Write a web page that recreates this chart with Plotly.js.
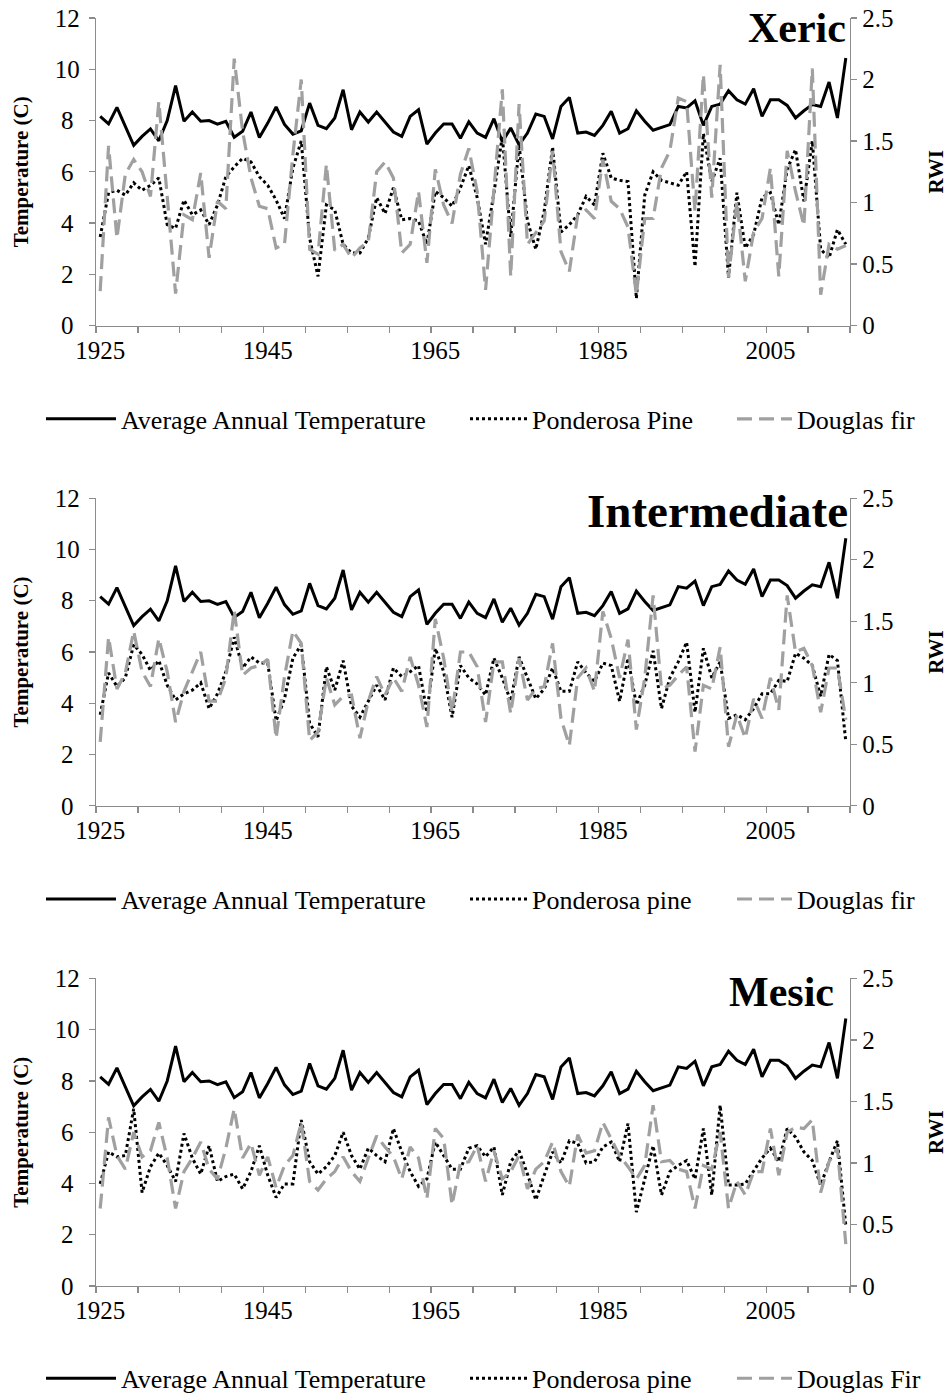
<!DOCTYPE html>
<html><head><meta charset="utf-8">
<script src="https://cdn.plot.ly/plotly-3.0.1.min.js"></script>
<style>body{margin:0;background:#fff}#chart{width:948px;height:1397px}</style>
</head><body><div id="chart"></div>
<script>
const years = [1925,1926,1927,1928,1929,1930,1931,1932,1933,1934,1935,1936,1937,1938,1939,1940,1941,1942,1943,1944,
1945,1946,1947,1948,1949,1950,1951,1952,1953,1954,1955,1956,1957,1958,1959,1960,1961,1962,1963,1964,
1965,1966,1967,1968,1969,1970,1971,1972,1973,1974,1975,1976,1977,1978,1979,1980,1981,1982,1983,1984,
1985,1986,1987,1988,1989,1990,1991,1992,1993,1994,1995,1996,1997,1998,1999,2000,2001,2002,2003,2004,
2005,2006,2007,2008,2009,2010,2011,2012,2013,2014];
const xTickVals = [1925,1945,1965,1985,2005];
const xTickText = ['1925','1945','1965','1985','2005'];
const tempTickVals = [0,2,4,6,8,10,12];
const tempTickText = ['0\u2005','2\u2005','4\u2005','6\u2005','8\u2005','10','12'];

const temperature = [8.16,7.87,8.51,7.75,7.03,7.38,7.67,7.21,8.0,9.36,7.97,8.33,7.97,8.0,7.86,7.97,7.35,7.58,8.33,7.34,
7.9,8.53,7.85,7.47,7.6,8.68,7.81,7.68,8.1,9.2,7.64,8.33,7.94,8.33,7.94,7.55,7.38,8.16,8.42,7.08,
7.51,7.86,7.86,7.31,7.95,7.51,7.34,8.07,7.16,7.71,7.05,7.51,8.25,8.16,7.28,8.55,8.9,7.51,7.55,7.42,
7.81,8.36,7.51,7.68,8.38,7.97,7.62,7.72,7.84,8.55,8.49,8.77,7.81,8.55,8.64,9.16,8.81,8.64,9.24,8.16,
8.81,8.81,8.59,8.1,8.38,8.62,8.55,9.5,8.1,10.44];

const xericPine = [0.72,1.08,1.10,1.06,1.16,1.10,1.14,1.20,0.82,0.79,1.02,0.90,0.94,0.82,0.98,1.21,1.29,1.36,1.33,1.21,
1.14,1.02,0.87,1.28,1.50,0.71,0.40,0.98,0.94,0.66,0.59,0.59,0.71,1.04,0.91,1.12,0.86,0.87,0.85,0.66,
1.09,1.04,0.97,1.12,1.30,1.04,0.66,1.08,1.54,0.72,1.47,0.85,0.62,0.93,1.45,0.76,0.82,0.90,1.05,0.98,
1.40,1.20,1.18,1.17,0.22,1.06,1.25,1.18,1.16,1.14,1.25,0.48,1.56,1.17,1.36,0.39,1.08,0.63,0.74,1.04,
1.08,0.82,1.27,1.43,1.01,1.50,0.62,0.55,0.78,0.66];
const xericFir = [0.28,1.46,0.71,1.23,1.35,1.25,1.05,1.82,1.05,0.26,0.90,0.86,1.24,0.55,1.01,0.95,2.17,1.58,1.20,0.97,
0.95,0.63,0.66,1.39,2.0,0.62,0.58,1.31,0.61,0.66,0.55,0.63,0.68,1.25,1.33,1.20,0.59,0.66,1.09,0.51,
1.27,0.98,0.83,1.23,1.44,1.09,0.29,1.10,1.92,0.40,1.80,0.66,0.75,0.85,1.42,0.60,0.44,0.90,0.94,0.87,
1.35,1.01,0.95,0.80,0.25,0.87,0.87,1.28,1.42,1.85,1.82,0.93,2.04,1.04,2.12,0.39,1.01,0.36,0.76,0.87,
1.28,0.40,1.42,1.09,0.81,2.09,0.25,0.66,0.62,0.65];

const interPine = [0.74,1.08,0.97,1.04,1.31,1.23,1.10,1.18,0.98,0.86,0.91,0.94,1.0,0.79,0.91,1.09,1.37,1.12,1.21,1.16,
1.16,0.69,0.87,1.20,1.31,0.67,0.56,1.13,0.94,1.18,0.81,0.72,0.85,0.98,0.86,1.12,1.05,1.09,1.14,0.76,
1.28,1.09,0.72,1.14,1.04,0.99,0.90,1.20,1.04,0.85,1.21,1.04,0.87,0.95,1.12,0.93,0.93,1.17,1.08,1.01,
1.16,1.14,0.85,1.20,0.82,0.98,1.26,0.79,1.04,1.17,1.33,0.76,1.28,1.04,1.17,0.71,0.74,0.70,0.79,0.91,
0.91,1.02,1.01,1.24,1.20,1.14,0.89,1.23,1.18,0.52];
const interFir = [0.52,1.37,0.95,1.08,1.42,1.09,0.97,1.36,1.09,0.68,0.93,1.09,1.25,0.85,0.85,1.04,1.59,1.06,1.12,1.14,
1.19,0.55,1.05,1.42,1.32,0.53,0.60,1.04,0.82,0.89,0.90,0.55,0.85,1.05,0.90,1.04,0.93,1.21,0.98,0.64,
1.52,1.20,0.76,1.25,1.25,1.13,0.68,1.17,1.17,0.75,1.20,0.86,0.95,0.97,1.32,0.71,0.49,1.04,1.12,0.93,
1.58,1.36,1.04,1.35,0.62,1.04,1.71,0.95,0.98,1.06,1.13,0.44,0.98,0.95,1.29,0.48,0.74,0.55,0.87,0.71,
1.04,0.78,1.71,1.25,1.28,1.14,0.76,1.12,1.12,0.70];

const mesicPine = [0.83,1.09,1.05,1.06,1.44,0.76,0.97,1.08,0.98,0.85,1.24,1.04,0.91,1.14,0.85,0.89,0.91,0.79,0.93,1.14,
0.90,0.72,0.83,0.83,1.35,1.01,0.91,0.97,1.06,1.25,1.06,0.95,1.12,1.06,1.01,1.28,1.09,0.93,0.81,0.87,
1.17,1.06,0.95,0.95,1.12,1.14,1.05,1.13,0.74,1.01,1.10,0.91,0.70,0.90,1.09,1.0,1.18,1.16,1.0,1.01,
1.13,1.17,1.01,1.32,0.60,0.87,1.14,0.74,0.93,0.98,1.02,0.87,1.28,0.74,1.47,0.82,0.82,0.83,0.94,1.04,
1.12,1.01,1.28,1.21,1.09,1.02,0.82,1.01,1.18,0.49];
const mesicFir = [0.63,1.37,1.06,0.95,1.25,1.05,1.10,1.33,1.04,0.63,0.93,1.04,1.17,0.95,0.87,1.12,1.44,1.04,1.16,0.90,
1.05,0.80,0.98,1.06,1.33,0.85,0.78,0.87,0.93,1.05,0.93,0.85,1.04,1.22,1.13,1.05,0.87,1.13,1.04,0.71,
1.28,1.20,0.66,1.0,1.01,1.14,0.85,1.10,0.87,0.93,1.06,0.79,0.95,1.01,1.17,0.93,0.81,1.23,1.08,1.10,
1.33,1.20,1.06,0.97,0.87,0.98,1.47,1.01,1.02,0.95,0.93,0.63,0.98,0.95,1.25,0.63,0.85,0.74,0.93,0.93,
1.28,0.90,1.25,1.29,1.28,1.35,0.76,1.01,1.12,0.34];

const panelTitles = ['Xeric','Intermediate','Mesic'];
const tempLabel = 'Average Annual Temperature';
const pineLabels = ['Ponderosa Pine','Ponderosa pine','Ponderosa pine'];
const firLabels = ['Douglas fir','Douglas fir','Douglas Fir'];
const pineSeries = [xericPine, interPine, mesicPine];
const firSeries = [xericFir, interFir, mesicFir];

const FONT = 'Liberation Serif, Times New Roman, serif';
const AX = '#8c8c8c';
const FIR = '#a0a0a0';
const W = 948, H = 1397, ML = 96, MR = 98, MT = 18.3, MB = 111.3;
const PH = H - MT - MB;
const panelH = 307.4, gap = 172.6;
const itemWidths = [70, 57, 55];

const traces = [];
const layout = {
  width: W, height: H,
  margin: {l: ML, r: MR, t: MT, b: MB, autoexpand: false},
  paper_bgcolor: '#fff', plot_bgcolor: '#fff',
  showlegend: true,
  font: {family: FONT, color: '#000', size: 25},
  annotations: []
};

function legName(n){ return n === 1 ? 'legend' : 'legend' + n; }
const legendTextX = [123, 534, 799];
const legendRowY = [419, 899, 1378];
const titleRight = [848, 850, 836];
const titleMidY = [28, 511, 992];
const titleSize = [42, 47, 42];

for (let i = 0; i < 3; i++) {
  const xa = i === 0 ? 'x' : 'x' + (i + 1);
  const yl = i === 0 ? 'y' : 'y' + (2 * i + 1);
  const yr = 'y' + (2 * i + 2);
  const top = MT + i * (panelH + gap);
  const d1 = 1 - (top - MT) / PH;
  const d0 = d1 - panelH / PH;
  const base = 3 * i;
  traces.push({x: years, y: temperature, xaxis: xa, yaxis: yl, type: 'scatter', mode: 'lines',
    name: tempLabel, line: {color: '#000', width: 3}, legend: legName(base + 1), showlegend: true});
  traces.push({x: years, y: pineSeries[i], xaxis: xa, yaxis: yr, type: 'scatter', mode: 'lines',
    name: pineLabels[i], line: {color: '#000', width: 3, dash: '3px,3px'}, legend: legName(base + 2), showlegend: true});
  traces.push({x: years, y: firSeries[i], xaxis: xa, yaxis: yr, type: 'scatter', mode: 'lines',
    name: firLabels[i], line: {color: FIR, width: 3.2, dash: '15px,7px'}, legend: legName(base + 3), showlegend: true});

  const xKey = i === 0 ? 'xaxis' : 'xaxis' + (i + 1);
  const ylKey = i === 0 ? 'yaxis' : 'yaxis' + (2 * i + 1);
  const yrKey = 'yaxis' + (2 * i + 2);
  layout[xKey] = {
    domain: [0, 1], anchor: yl, range: [1924.5, 2014.5],
    showline: true, linecolor: AX, linewidth: 1.3, showgrid: false, zeroline: false,
    tickmode: 'array', tickvals: xTickVals, ticktext: xTickText, ticks: '', ticklen: 0,
    ticklabelstandoff: 2,
    minor: {tickmode: 'linear', tick0: 1924.5, dtick: 5, ticks: 'outside', ticklen: 6, tickcolor: AX, tickwidth: 1.3, showgrid: false},
    tickfont: {family: FONT, size: 25, color: '#000'}, fixedrange: true
  };
  layout[ylKey] = {
    domain: [d0, d1], anchor: xa, range: [0, 12],
    tickmode: 'array', tickvals: tempTickVals, ticktext: tempTickText,
    ticklabelstandoff: 4,
    showline: true, linecolor: AX, linewidth: 1.3, showgrid: false, zeroline: false,
    ticks: 'outside', ticklen: 6, tickcolor: AX, tickwidth: 1.3,
    tickfont: {family: FONT, size: 25, color: '#000'},
    title: {text: '<b>Temperature (C)</b>', font: {family: FONT, size: 21, color: '#000'}, standoff: 20}
  };
  layout[yrKey] = {
    overlaying: yl, side: 'right', anchor: xa, range: [0, 2.5], dtick: 0.5, tick0: 0,
    showline: true, linecolor: AX, linewidth: 1.3, showgrid: false, zeroline: false,
    ticks: 'outside', ticklen: 6, tickcolor: AX, tickwidth: 1.3,
    tickfont: {family: FONT, size: 25, color: '#000'},
    title: {text: '<b>RWI</b>', font: {family: FONT, size: 21, color: '#000'}, standoff: 36}
  };
  layout.annotations.push({
    xref: 'paper', yref: 'paper',
    x: (titleRight[i] - ML) / (W - ML - MR), y: (H - MB - titleMidY[i]) / PH,
    xanchor: 'right', yanchor: 'middle', showarrow: false,
    text: '<b>' + panelTitles[i] + '</b>', font: {family: FONT, size: titleSize[i], color: '#000'}
  });
  for (let j = 0; j < 3; j++) {
    const key = legName(base + j + 1);
    layout[key] = {
      orientation: 'h', xref: 'paper', yref: 'paper',
      x: (legendTextX[j] - (itemWidths[j] + 12) - ML) / (W - ML - MR),
      y: (H - MB - legendRowY[i]) / PH, xanchor: 'left', yanchor: 'middle',
      itemwidth: itemWidths[j],
      bgcolor: 'rgba(0,0,0,0)', borderwidth: 0,
      font: {family: FONT, size: 26, color: '#000'}
    };
  }
}

Plotly.newPlot('chart', traces, layout, {staticPlot: true, displayModeBar: false});
</script>
</body></html>
